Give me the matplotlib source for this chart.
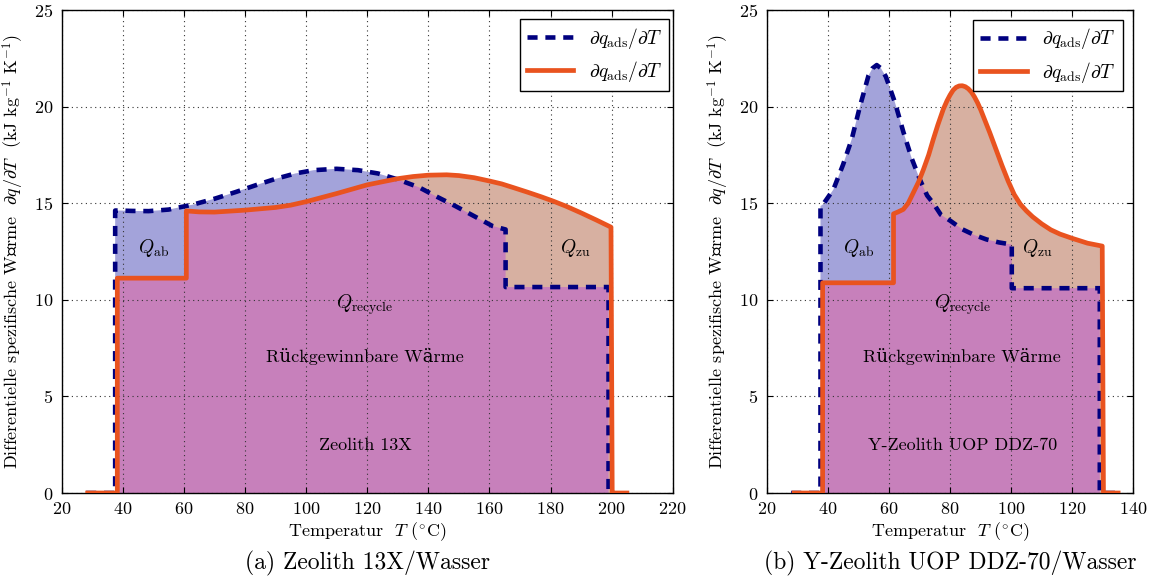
import matplotlib
matplotlib.use("Agg")
import matplotlib.pyplot as plt

plt.rcParams['font.family'] = ['cmr10', 'DejaVu Serif']
plt.rcParams['mathtext.fontset'] = 'cm'
plt.rcParams['axes.unicode_minus'] = False
plt.rcParams['axes.formatter.use_mathtext'] = True

# Zeolith 13X / Wasser
t_13x_ads = [28, 37.5, 37.5, 39, 43, 48.5, 55, 63, 70, 77, 83.5, 90, 96.5, 102.5, 110,
             117, 123.5, 130, 137, 142.5, 149, 155, 161, 165.3, 165.3, 199, 199, 201]
q_13x_ads = [0, 0, 14.62, 14.62, 14.6, 14.59, 14.67, 14.93, 15.23, 15.58, 15.93, 16.26,
             16.54, 16.71, 16.78, 16.71, 16.54, 16.23, 15.82, 15.36, 14.84, 14.33, 13.82,
             13.64, 10.66, 10.66, 0, 0]
t_13x_des = [28.5, 38.2, 38.2, 60.8, 60.8, 65, 70, 80, 90, 95, 100, 110, 120, 130, 135,
             140, 146, 150, 155, 160, 164, 168, 172.5, 177, 181, 185, 190, 195, 199.8,
             200.2, 205]
q_13x_des = [0, 0, 11.12, 11.12, 14.6, 14.55, 14.54, 14.64, 14.78, 14.9, 15.08, 15.5,
             15.95, 16.27, 16.38, 16.45, 16.47, 16.43, 16.32, 16.15, 16.0, 15.8, 15.57,
             15.33, 15.1, 14.85, 14.5, 14.13, 13.76, 0, 0]

# Y-Zeolith UOP DDZ-70 / Wasser
t_ddz_ads = [28, 37.6, 37.6, 38.5, 41.8, 45, 47.8, 50.5, 53.3, 54.6, 56, 57.4, 59, 62,
             64.7, 67.5, 70.2, 72.5, 74.5, 77, 80, 84, 88, 92, 96, 100.2, 100.2, 129,
             129, 134]
q_ddz_ads = [0, 0, 14.85, 14.95, 15.7, 17.0, 18.3, 20.0, 21.6, 21.98, 22.15, 21.98,
             21.55, 20.2, 18.7, 17.3, 16.2, 15.4, 15.0, 14.4, 14.1, 13.65, 13.35, 13.12,
             12.97, 12.86, 10.6, 10.6, 0, 0]
t_ddz_des = [29, 38.3, 38.3, 61.5, 61.5, 63, 64.7, 66.3, 68, 69.7, 71.3, 73, 74.5, 76,
             77.8, 79, 80, 81, 82, 83, 84, 85, 86, 87, 88, 89, 90, 91, 92, 93, 95, 97,
             99, 101, 103, 105, 107, 110, 113, 116, 120, 125, 129.8, 130.2, 135]
q_ddz_des = [0, 0, 10.88, 10.88, 14.45, 14.55, 14.68, 15.0, 15.55, 16.1, 16.75, 17.5,
             18.3, 19.05, 19.87, 20.3, 20.6, 20.85, 21.0, 21.07, 21.08, 21.03, 20.92,
             20.75, 20.5, 20.2, 19.85, 19.45, 19.05, 18.65, 17.8, 16.95, 16.15, 15.45,
             14.95, 14.6, 14.3, 13.93, 13.62, 13.4, 13.18, 12.93, 12.78, 0, 0]

c_ads = '#00007f'
c_des = '#e9531f'
f_ads = '#a3a3da'
f_des = '#d7b0a1'
f_both = '#c780bb'


def panel(ax, t_a, q_a, t_d, q_d, xmax, xc, name):
    ax.fill(t_a, q_a, color=f_ads, lw=0, zorder=1)
    pd = ax.fill(t_d, q_d, color=f_des, lw=0, zorder=1)[0]
    # overlap of both areas (recyclable heat)
    pb = ax.fill(t_a, q_a, color=f_both, lw=0, zorder=1)[0]
    pb.set_clip_path(pd)

    ax.plot(t_a, q_a, color=c_ads, lw=3.3, dashes=(2.2, 1.7), zorder=3,
            label=r'$\partial q_{\mathrm{ads}}/\partial T$')
    ax.plot(t_d, q_d, color=c_des, lw=3.4, zorder=3,
            label=r'$\partial q_{\mathrm{ads}}/\partial T$')

    ax.set_xlim(20, xmax)
    ax.set_ylim(0, 25)
    ax.set_xticks(range(20, xmax + 1, 20))
    ax.set_yticks(range(0, 26, 5))
    ax.grid(True, color='#333333', linestyle=(0, (1, 3.2)), lw=0.8)
    ax.tick_params(direction='in', top=True, right=True, length=4, labelsize=13, pad=6)
    for s in ax.spines.values():
        s.set_linewidth(1.0)

    ax.set_xlabel(r'Temperatur  $T$ ($^{\circ}$C)', fontsize=13, labelpad=2)
    ax.set_ylabel(r'Differentielle spezifische Wärme  $\partial q/\partial T$  '
                  r'(kJ kg$^{-1}$ K$^{-1}$)', fontsize=13, labelpad=6)

    ax.text(xc, 9.75, r'$Q_{\mathrm{recycle}}$', fontsize=14, ha='center', va='center', zorder=4)
    ax.text(xc, 7.06, 'Rückgewinnbare Wärme', fontsize=13, ha='center', va='center', zorder=4)
    ax.text(xc, 2.47, name, fontsize=13, ha='center', va='center', zorder=4)


fig = plt.figure(figsize=(11.53, 5.81), dpi=100)
ax1 = fig.add_axes([61.7 / 1153, 1 - 493 / 581, 611 / 1153, 483 / 581])
ax2 = fig.add_axes([766.7 / 1153, 1 - 493 / 581, 366.7 / 1153, 483 / 581])

panel(ax1, t_13x_ads, q_13x_ads, t_13x_des, q_13x_des, 220, 119.3, 'Zeolith 13X')
ax1.text(50, 12.7, r'$Q_{\mathrm{ab}}$', fontsize=14, ha='center', va='center', zorder=4)
ax1.text(188, 12.7, r'$Q_{\mathrm{zu}}$', fontsize=14, ha='center', va='center', zorder=4)

panel(ax2, t_ddz_ads, q_ddz_ads, t_ddz_des, q_ddz_des, 140, 84, 'Y-Zeolith UOP DDZ-70')
ax2.text(50, 12.7, r'$Q_{\mathrm{ab}}$', fontsize=14, ha='center', va='center', zorder=4)
ax2.text(108.5, 12.7, r'$Q_{\mathrm{zu}}$', fontsize=14, ha='center', va='center', zorder=4)

for ax, anchor in ((ax1, (0.994, 0.981)), (ax2, (0.971, 0.98))):
    leg = ax.legend(loc='upper right', bbox_to_anchor=anchor, borderaxespad=0,
                    fontsize=14, fancybox=False, framealpha=1, edgecolor='black',
                    handlelength=2.4, handletextpad=0.8, labelspacing=0.42,
                    borderpad=0.35)
    leg.get_frame().set_linewidth(1.0)
    leg.set_zorder(5)

fig.text((61.7 + 305.5) / 1153, 1 - 563 / 581, '(a) Zeolith 13X/Wasser',
         fontsize=17, ha='center', va='center')
fig.text((766.7 + 183.3) / 1153, 1 - 563 / 581, '(b) Y-Zeolith UOP DDZ-70/Wasser',
         fontsize=17, ha='center', va='center')

fig.savefig('out.png', dpi=100)
